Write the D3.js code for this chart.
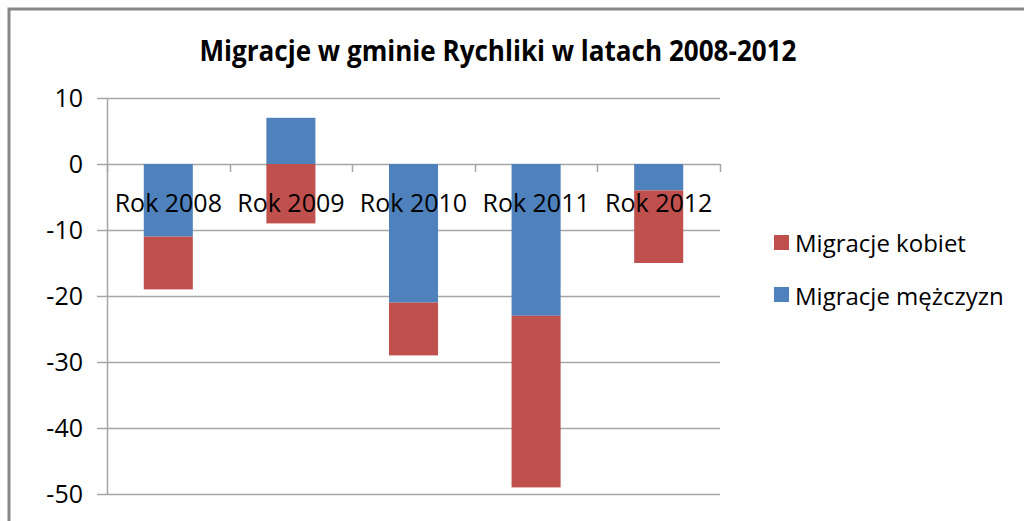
<!DOCTYPE html>
<html>
<head>
<meta charset="utf-8">
<script src="https://cdn.jsdelivr.net/npm/d3@7"></script>
<style>
  body { margin: 0; background: #fff; }
  svg { display: block; }
</style>
</head>
<body>
<script>
// data
const years = ["Rok 2008", "Rok 2009", "Rok 2010", "Rok 2011", "Rok 2012"];
const men = [-11, 7, -21, -23, -4];      // Migracje mężczyzn
const women = [-8, -9, -8, -26, -11];    // Migracje kobiet
const yTicks = [10, 0, -10, -20, -30, -40, -50];
const legendItems = ["Migracje kobiet", "Migracje mężczyzn"];

const colors = { men: "#4F81BD", women: "#C0504D" };
const font = "'Open Sans', sans-serif";

let svg = d3.select("body").append("svg")
    .attr("width", 1024)
    .attr("height", 521);

// outer chart border
svg.append("rect")
    .attr("x", 9).attr("y", 9)
    .attr("width", 1040).attr("height", 540)
    .attr("fill", "white")
    .attr("stroke", "#878787")
    .attr("stroke-width", 3);

let x = d3.scaleBand().domain(years).range([107, 720])
    .paddingInner(0.6).paddingOuter(0.3);
let y = d3.scaleLinear().domain([-50, 10]).range([494, 98]);

// gridlines + left ticks
svg.append("g")
    .selectAll("line")
    .data(yTicks)
    .enter()
    .append("line")
    .attr("x1", 97).attr("x2", 720)
    .attr("y1", d => Math.round(y(d)) + 0.5)
    .attr("y2", d => Math.round(y(d)) + 0.5)
    .attr("stroke", "#A6A6A6")
    .attr("stroke-width", 1.5);

// y axis line
svg.append("line")
    .attr("x1", 107.5).attr("x2", 107.5)
    .attr("y1", y(10)).attr("y2", y(-50))
    .attr("stroke", "#A6A6A6")
    .attr("stroke-width", 1.5);

// y tick labels
svg.append("g")
    .selectAll("text")
    .data(yTicks)
    .enter()
    .append("text")
    .attr("x", 83)
    .attr("y", d => y(d) + 9)
    .attr("text-anchor", "end")
    .style("font-family", font)
    .style("font-size", "25px")
    .style("fill", "#000")
    .text(d => d);

// category tick marks on the zero line
let bounds = d3.range(years.length + 1).map(i => x.range()[0] + i * x.step());
svg.append("g")
    .selectAll("line")
    .data(bounds)
    .enter()
    .append("line")
    .attr("x1", d => Math.round(d) + 0.5)
    .attr("x2", d => Math.round(d) + 0.5)
    .attr("y1", y(0))
    .attr("y2", y(0) + 8)
    .attr("stroke", "#A6A6A6")
    .attr("stroke-width", 1.5);

// stacked bars
let table = years.map((yr, i) => ({ year: yr, men: men[i], women: women[i] }));
let stack = d3.stack().keys(["men", "women"]).offset(d3.stackOffsetDiverging);
let series = stack(table);

svg.append("g")
    .selectAll("g")
    .data(series)
    .enter()
    .append("g")
    .attr("fill", s => colors[s.key])
    .selectAll("rect")
    .data(s => s)
    .enter()
    .append("rect")
    .attr("x", d => x(d.data.year))
    .attr("width", x.bandwidth())
    .attr("y", d => y(Math.max(d[0], d[1])))
    .attr("height", d => Math.abs(y(d[0]) - y(d[1])));

// category labels (drawn over the bars, like the original)
svg.append("g")
    .selectAll("text")
    .data(years)
    .enter()
    .append("text")
    .attr("x", d => x(d) + x.bandwidth() / 2)
    .attr("y", 212)
    .attr("text-anchor", "middle")
    .style("font-family", font)
    .style("font-size", "25px")
    .style("fill", "#000")
    .text(d => d);

// title
svg.append("text")
    .attr("x", 498)
    .attr("y", 61)
    .attr("text-anchor", "middle")
    .attr("textLength", 597)
    .attr("lengthAdjust", "spacingAndGlyphs")
    .style("font-family", font)
    .style("font-weight", "bold")
    .style("font-size", "28px")
    .style("fill", "#000")
    .text("Migracje w gminie Rychliki w latach 2008-2012");

// legend
let legend = svg.append("g");
let legendColors = [colors.women, colors.men];
legend.selectAll("rect")
    .data(legendItems)
    .enter()
    .append("rect")
    .attr("x", 774)
    .attr("y", (d, i) => 235 + i * 52)
    .attr("width", 15)
    .attr("height", 15)
    .attr("fill", (d, i) => legendColors[i]);

legend.selectAll("text")
    .data(legendItems)
    .enter()
    .append("text")
    .attr("x", 795)
    .attr("y", (d, i) => 252 + i * 53)
    .style("font-family", font)
    .style("font-size", "24px")
    .style("fill", "#000")
    .text(d => d);
</script>
</body>
</html>
